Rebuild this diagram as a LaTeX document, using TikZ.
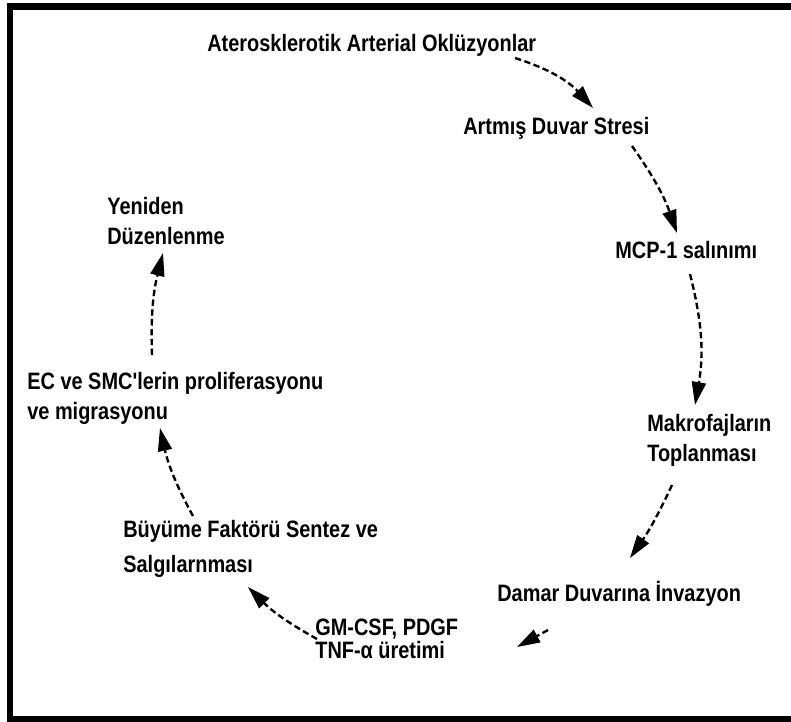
\documentclass[tikz,border=0pt]{standalone}
\usepackage{fontspec}
\setmainfont{Liberation Sans}[FakeStretch=0.84, Ligatures=TeXOff]
\usetikzlibrary{arrows.meta}

\begin{document}
\begin{tikzpicture}[x=0.02cm, y=-0.02cm,
    stage/.style={anchor=north west, inner sep=0pt, align=left,
                  font=\fontsize{13.5}{17}\selectfont\bfseries},
    arr/.style={-{Triangle[length=0.46cm, width=0.28cm]}, line width=1.35pt,
                dash pattern=on 3.6pt off 2pt},
    frame/.style={line width=0.13cm},
]
\useasboundingbox (0,0) rectangle (791,721);
\draw[frame] (830,719) -- (10,719) -- (10,6.5) -- (830,6.5);

% the cycle, clockwise from the top
\node[stage] (ather) at (207,34) {Aterosklerotik Arterial Oklüzyonlar};
\node[stage] (duvar) at (463,117) {Artmış Duvar Stresi};
\node[stage] (mcp) at (615,241) {MCP-1 salınımı};
\node[stage] (makro) at (647,414) {Makrofajların\\Toplanması};
\node[stage] (damar) at (497,581) {Damar Duvarına İnvazyon};
\node[stage] (gmcsf) at (315,619) {GM-CSF, PDGF\\[-4pt]TNF-α üretimi};
\node[stage] (buyume) at (123,520) {Büyüme Faktörü Sentez ve\\[3pt]Salgılarnması};
\node[stage] (prolif) at (27,372) {EC ve SMC'lerin proliferasyonu\\ve migrasyonu};
\node[stage] (yeniden) at (107,197) {Yeniden\\Düzenlenme};

\draw[arr] ([shift={(308,24)}]ather.north west) to[bend left=15] ([shift={(130,-9)}]duvar.north west);
\draw[arr] ([shift={(169,29)}]duvar.north west) to[bend left=8] ([shift={(62,-8)}]mcp.north west);
\draw[arr] ([shift={(75,33)}]mcp.north west) to[bend left=12] ([shift={(48,-9)}]makro.north west);
\draw[arr] ([shift={(25,71)}]makro.north west) to[bend left=5] ([shift={(133,-23)}]damar.north west);
\draw[arr] ([shift={(51,49)}]damar.north west) -- ([shift={(202,28)}]gmcsf.north west);
\draw[arr] ([shift={(2,20)}]gmcsf.north west) to[bend left=8] ([shift={(125,67)}]buyume.north west);
\draw[arr] ([shift={(70,-4)}]buyume.north west) to[bend left=8] ([shift={(133,56)}]prolif.north west);
\draw[arr] ([shift={(125,-17)}]prolif.north west) to[bend left=8] ([shift={(56,56)}]yeniden.north west);
\end{tikzpicture}
\end{document}
